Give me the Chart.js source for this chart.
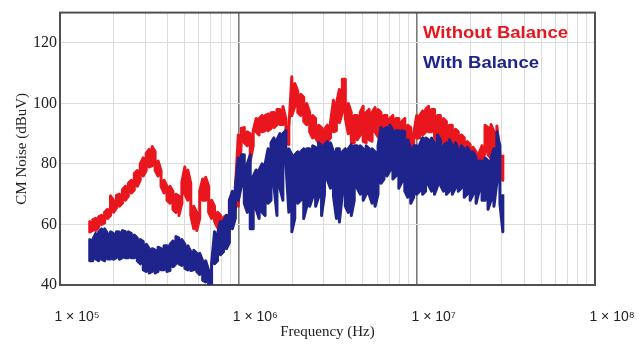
<!DOCTYPE html>
<html><head><meta charset="utf-8">
<script src="https://cdn.jsdelivr.net/npm/chart.js@4.4.1/dist/chart.umd.min.js"></script>
<style>html,body{margin:0;padding:0;background:#fff;}#wrap{width:643px;height:344px;position:relative;}</style>
</head><body><div id="wrap"><canvas id="c"></canvas></div>
<script>
// Sweep frequencies (kHz)
const freqKHz = [146.8,152.5,158.5,164.7,171.1,177.8,184.8,192.0,199.5,207.3,
215.4,223.9,232.6,241.7,251.2,261.0,271.2,281.8,292.9,304.3,
316.2,328.6,341.5,354.8,368.7,383.1,398.1,413.7,429.9,446.7,
464.2,482.3,501.2,520.8,541.2,562.3,584.3,607.2,631.0,655.6,
681.3,707.9,735.6,764.4,794.3,825.4,857.7,891.3,926.1,962.4,
1000,1039,1080,1122,1166,1212,1259,1308,1359,1413,
1468,1525,1585,1647,1711,1778,1848,1920,1995,2073,
2154,2239,2326,2417,2512,2610,2712,2818,2929,3043,
3162,3286,3415,3548,3687,3831,3981,4137,4299,4467,
4642,4823,5012,5208,5412,5623,5843,6072,6310,6556,
6813,7079,7356,7644,7943,8254,8577,8913,9261,9624,
10000,10390,10800,11220,11660,12120,12590,13080,13590,14130,
14680,15250,15850,16470,17110,17780,18480,19200,19950,20730,
21540,22390,23260,24170,25120,26100,27120,28180,29290,30430];

// CM noise (dBuV), Without Balance: peak / trough in each frequency bin
const withoutBalanceMax = [61,61.5,62,62.5,63,64,65,69.5,68,69.6,
70,71.5,72.6,73.6,74.6,76.8,77.8,80,82,83.5,
84.8,85.8,84,81,77.8,74.6,72.6,72.6,71,70,
69.4,74,79,78,73.6,66,64,71,75,75.6,
72.6,68,66,64,63,62.4,63,68,70,72,
89.6,91.8,92,90.6,90,91,95,95,96,96,
96.5,96.9,97,98,98,99,95,92,108.8,106.6,
104,103,102,100,97,96,95,92.8,92,91.5,
92.8,93.7,101,100,104.6,108,108,100,97,96,
96,97,99,97,98,97,98.6,98,97,96,
96,95,96,95,95,94,95,92.8,92,90,
96,96,97.5,98,99,98,98,96,96,95,
94,92.8,92.8,91.5,90.6,89.6,88.6,87.4,86.4,85.5,
84,83.5,86,92.8,92,93,90.6,92.5,83,83];
const withoutBalanceMin = [57.5,58,58,59,60,60.5,62,63,64,65.5,
66,67,68,69.4,70.4,71.4,72.6,74.6,76,77.8,
79,79.4,77.8,76,72.6,70.4,68,67,65,64,
63,67,70,68,63,58.6,58,62,68,68,
64,62,61,59,58.6,57.6,58.6,62,63,65,
66,87.4,87,86,81,86,90.6,89.6,90.6,91,
91,91.7,92,93,93,93,87,86.4,96,99,
97,96,94,93,90.6,88.6,88.6,87,86.4,86.4,
87.4,88.6,90.6,91,93.7,97,95,90,87,87,
88,89.6,87.5,87,88,87.5,90.6,89,89.6,88.6,
89,87.4,88,87.4,89,87,86,85.4,82,81,
88.6,88.6,89.6,90.6,90.6,90.6,89,87,87.4,86.4,
85,85,84.5,83.5,83,82,81,80.5,80,79.5,
80,79.5,80,84,83,82,80,83,76.8,74.6];

// CM noise (dBuV), With Balance: peak / trough in each frequency bin
const withBalanceMax = [55,55,57,57.5,58.5,58.6,57,57.6,57,57.6,
57.5,58,57.6,57.6,57,56.5,55.5,55,54.4,53.5,
52,52,51.5,52.5,52,53,53,53.4,54.5,56,
55.5,55,53.5,53,51,51.5,50.5,50.5,48,48,
44.8,47,57.6,57,61,61,63,68,71,72.6,
82,83,83,80,83,76,78,78,80,80,
85,87,88.6,88,90,90,91,85,83,83,
84,84,85,85,85,86,85.5,87,86,86.4,
87.4,87,84,85,85,84,85,85,86.4,86,
86,86,85,86,85,85,84,86,92,91.5,
92,92.8,91,91,91,91,90.6,88,85,86,
86,86.4,88.6,88.6,88,88.6,87,89.6,88,86,
87,88,86,87,85,86,85,85.5,84,84,
82,81,81,82,81,82,85,90.6,86,70];
const withBalanceMin = [48,48,48.6,48,48.5,48,48.6,48.6,48.5,49,
48.5,49,49,49,49,49,48,47,45,44.5,
44,44.5,44,44.5,45,45,44.5,44.8,46,47,
47,46.5,45.5,45,44.8,45,44.5,43.5,41.6,41,
39,40,47,48,50,51,52,54,58.6,62,
68,72.6,67,64,58.6,58.6,65,62,64,63,
67,68,72.6,63,72,68,80,64,57.6,62,
67,68,62,66,66,69,66,69,63,70,
74.6,72,69.4,62,60.8,70,66,64,63,68,
72,70,68,70,70,67,66,70,73.6,75,
76,77.8,75,76,72,74,71,69,67,69,
70,71,70,71,73,71,70,72.6,73,71,
70,71,70,72,71,72,69,70,68,70,
67,71,68,68,65,68,66,74,67,57.6];

const seriesNames = ['Without Balance','With Balance'];
const yTicks = [40,60,80,100,120];
const decadeTicks = [1e5,1e6,1e7,1e8];
const decadeLabels = ['1 × 10⁵','1 × 10⁶','1 × 10⁷','1 × 10⁸'];

const RED = 'rgb(234,22,30)';
const BLUE = 'rgb(30,36,140)';

// Each bin is drawn as a vertical stroke from trough to peak, strokes joined in order
function sweep(maxV,minV){
  const out=[];
  freqKHz.forEach((f,i)=>{
    const x=f*1000;
    if(i%2===0){out.push({x,y:maxV[i]});out.push({x,y:minV[i]});}
    else{out.push({x,y:minV[i]});out.push({x,y:maxV[i]});}
  });
  return out;
}
function isDecade(v){ const l=Math.log10(v); return Math.abs(l-Math.round(l))<1e-6; }

const framePlugin = {
  id:'frame',
  beforeDatasetsDraw(chart){
    const {ctx,chartArea:a} = chart;
    ctx.save();
    ctx.strokeStyle='#505050'; ctx.lineWidth=2;
    ctx.strokeRect(a.left,a.top,a.right-a.left,a.bottom-a.top);
    ctx.restore();
  }
};
const legendPlugin = {
  id:'txtLegend',
  afterDraw(chart){
    const ctx=chart.ctx;
    const items=[{t:seriesNames[0],c:RED,x:423,y:33,w:145},{t:seriesNames[1],c:BLUE,x:423,y:63,w:116}];
    ctx.save();
    ctx.font='bold 17px "Liberation Sans", Arial, sans-serif';
    ctx.textBaseline='middle';
    items.forEach(it=>{
      const m=ctx.measureText(it.t).width;
      ctx.save(); ctx.translate(it.x,it.y); ctx.scale(it.w/m,1);
      ctx.fillStyle=it.c; ctx.fillText(it.t,0,0); ctx.restore();
    });
    ctx.restore();
  }
};

new Chart(document.getElementById('c'),{
  type:'line',
  data:{datasets:[
    {label:seriesNames[1],data:sweep(withBalanceMax,withBalanceMin),borderColor:BLUE,borderWidth:3,pointRadius:0,tension:0,borderJoinStyle:'round',order:0},
    {label:seriesNames[0],data:sweep(withoutBalanceMax,withoutBalanceMin),borderColor:RED,borderWidth:3,pointRadius:0,tension:0,borderJoinStyle:'round',order:1}
  ]},
  options:{
    responsive:true,maintainAspectRatio:false,animation:false,
    layout:{padding:{top:3,right:48,left:0,bottom:0}},
    plugins:{legend:{display:false},tooltip:{enabled:false}},
    scales:{
      x:{type:'logarithmic',min:1e5,max:1e8,
        afterBuildTicks(s){const t=[];for(let e=5;e<8;e++){for(let m=1;m<10;m++)t.push({value:m*Math.pow(10,e)});}t.push({value:1e8});s.ticks=t;},
        afterFit(s){s.height=59;},
        grid:{drawTicks:false,color:c=>isDecade(c.tick.value)?'#7a7a7a':'#dcdcdc',lineWidth:c=>isDecade(c.tick.value)?1.6:1},
        border:{display:false},
        ticks:{autoSkip:false,maxRotation:0,minRotation:0,padding:24,labelOffset:17,color:'#222',
          font:{family:'"Liberation Sans", Arial, sans-serif',size:14},
          callback:(v)=>{const i=decadeTicks.findIndex(d=>Math.abs(d-v)/d<1e-6);return i>=0?decadeLabels[i]:'';}},
        title:{display:true,text:'Frequency (Hz)',color:'#222',padding:3,font:{family:'"Liberation Serif", "Times New Roman", serif',size:15}}
      },
      y:{type:'linear',min:40,max:130,
        afterBuildTicks(s){s.ticks=yTicks.map(v=>({value:v}));},
        afterFit(s){s.width=60;},
        grid:{drawTicks:false,color:'#dcdcdc',lineWidth:1},
        border:{display:false},
        ticks:{padding:3,color:'#222',font:{family:'"Liberation Serif", "Times New Roman", serif',size:16}},
        title:{display:true,text:'CM Noise (dBuV)',color:'#222',padding:13,font:{family:'"Liberation Serif", "Times New Roman", serif',size:15}}
      }
    }
  },
  plugins:[framePlugin,legendPlugin]
});
</script></body></html>
